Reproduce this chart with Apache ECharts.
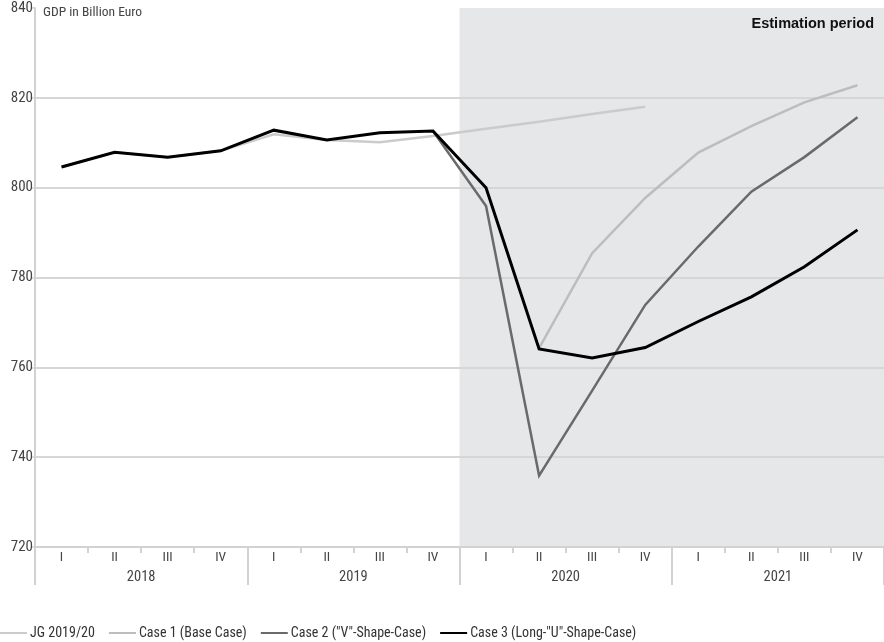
<!DOCTYPE html>
<html>
<head>
<meta charset="utf-8">
<script src="https://cdn.jsdelivr.net/npm/echarts@6/dist/echarts.min.js"></script>
<style>
html,body{margin:0;padding:0;background:#fff;}
#chart{width:884px;height:642px;}
</style>
</head>
<body>
<div id="chart"></div>
<script>
// ---- data ----
const years = ['2018', '2019', '2020', '2021'];
const quarters = ['I', 'II', 'III', 'IV'];
const yTicks = { min: 720, max: 840, step: 20 };

const jg201920 = [804.6, 807.9, 806.8, 808.2, 811.9, 810.6, 810.1, 811.5, 813.1, 814.7, 816.4, 818.0, null, null, null, null];
const case1 = [null, null, null, null, null, null, null, null, null, 764.3, 785.4, 797.7, 807.8, 813.7, 819.0, 822.8];
const case2 = [null, null, null, null, null, null, null, 812.6, 795.9, 735.9, 754.8, 773.9, 786.9, 799.1, 806.8, 815.7];
const case3 = [804.6, 807.9, 806.8, 808.2, 812.8, 810.6, 812.2, 812.6, 800.0, 764.1, 762.1, 764.4, 770.2, 775.7, 782.4, 790.6];
const estimationStartYear = '2020';

const seriesNames = ['JG 2019/20', 'Case 1 (Base Case)', 'Case 2 ("V"-Shape-Case)', 'Case 3 (Long-"U"-Shape-Case)'];

// ---- derived ----
const categories = [];
years.forEach(y => quarters.forEach(q => categories.push(y + ' ' + q)));
// estimation period spans from the start of 2020 to the end of the axis (in year units)
const shade = [[years.indexOf(estimationStartYear), yTicks.max], [years.length, yTicks.max]];

const FONT = '"Liberation Sans Narrow", "Roboto Condensed", Roboto, sans-serif';
const AXIS_GRAY = '#d2d2d2';
const SHADE = '#e6e7e9';

const chart = echarts.init(document.getElementById('chart'), null, { renderer: 'canvas' });

function lineSeries(name, data, color, width) {
  return {
    name: name, type: 'line', data: data,
    xAxisIndex: 0, yAxisIndex: 0,
    symbol: 'none', showSymbol: false, connectNulls: false,
    lineStyle: { color: color, width: width, join: 'miter' },
    itemStyle: { color: color },
    emphasis: { disabled: true },
    z: 3
  };
}

const legendHeights = [2, 2, 3, 3];

chart.setOption({
  animation: false,
  textStyle: { fontFamily: FONT },
  grid: { left: 35, right: 0, top: 8, bottom: 95, containLabel: false },
  title: {
    text: 'Estimation period',
    right: 5, top: 11,
    textStyle: { fontFamily: '"Liberation Sans", Arial, sans-serif', fontSize: 14.5, fontWeight: 'bold', color: '#111' }
  },
  legend: {
    data: seriesNames.map((n, i) => ({ name: n, icon: 'rect', itemHeight: legendHeights[i] })),
    left: 0, top: 626, padding: 0,
    itemWidth: 27, itemHeight: 2, itemGap: 14,
    textStyle: { fontFamily: FONT, fontSize: 14, color: '#333', padding: [0, 0, 0, -2] },
    selectedMode: false
  },
  xAxis: [
    {
      type: 'category', data: categories, position: 'bottom', gridIndex: 0,
      boundaryGap: true,
      axisLine: { show: true, lineStyle: { color: AXIS_GRAY, width: 2 } },
      axisTick: { show: true, interval: 0, length: 6, lineStyle: { color: AXIS_GRAY, width: 2 } },
      axisLabel: { interval: 0, margin: 4, fontSize: 13.5, color: '#444', fontFamily: FONT,
        formatter: v => v.split(' ')[1] },
      splitLine: { show: false }
    },
    {
      type: 'category', data: years, position: 'bottom', gridIndex: 0, offset: 0,
      boundaryGap: true,
      axisLine: { show: false },
      axisTick: { show: true, interval: 0, length: 38, lineStyle: { color: AXIS_GRAY, width: 2 } },
      axisLabel: { interval: 0, margin: 23, fontSize: 14.5, color: '#444', fontFamily: FONT },
      splitLine: { show: false }
    },
    {
      type: 'value', min: 0, max: years.length, gridIndex: 0, show: false,
      splitLine: { show: false }
    }
  ],
  yAxis: [{
    type: 'value', min: yTicks.min, max: yTicks.max, interval: yTicks.step,
    name: 'GDP in Billion Euro',
    nameLocation: 'end', nameGap: -5,
    nameTextStyle: { align: 'left', verticalAlign: 'middle', padding: [0, 0, 0, 8], fontSize: 13.5, color: '#444', fontFamily: FONT },
    axisLine: { show: true, lineStyle: { color: AXIS_GRAY, width: 2 } },
    axisTick: { show: true, length: 4, lineStyle: { color: AXIS_GRAY, width: 1.5 } },
    axisLabel: { margin: 2, fontSize: 15, color: '#444', fontFamily: FONT },
    splitLine: { show: true, showMaxLine: false, showMinLine: false, lineStyle: { color: '#d6d6d6', width: 2 } }
  }],
  series: [
    {
      name: 'shade', type: 'line', data: shade,
      xAxisIndex: 2, yAxisIndex: 0,
      symbol: 'none', showSymbol: false, silent: true,
      lineStyle: { width: 0, color: SHADE },
      areaStyle: { color: SHADE, opacity: 1, origin: 'start' },
      z: -1
    },
    lineSeries(seriesNames[0], jg201920, '#cbcbcb', 2.5),
    lineSeries(seriesNames[1], case1, '#bdbdbd', 2.5),
    lineSeries(seriesNames[2], case2, '#6a6a6a', 2.5),
    lineSeries(seriesNames[3], case3, '#000000', 3)
  ]
});
</script>
</body>
</html>
